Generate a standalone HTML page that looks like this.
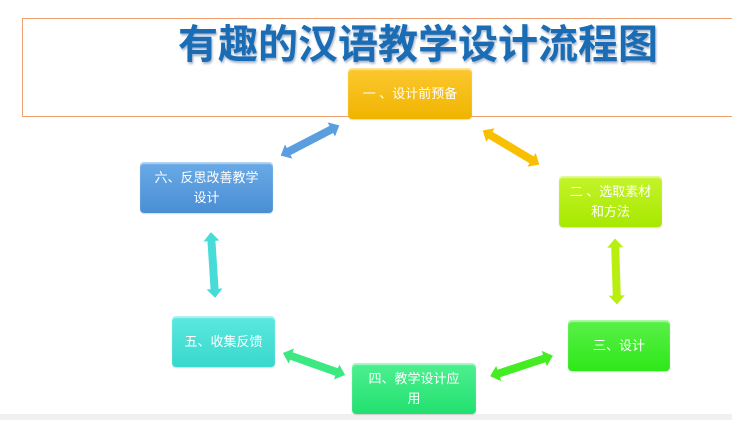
<!DOCTYPE html>
<html><head><meta charset="utf-8"><style>
body{margin:0;width:732px;height:432px;background:#fff;position:relative;overflow:hidden;font-family:"Liberation Sans","Noto Sans CJK SC",sans-serif}
.frame{position:absolute;left:22px;top:18px;width:720px;height:99px;border:1px solid #f0a070;box-sizing:border-box}
.title{position:absolute;left:148px;top:21px;width:540px;text-align:center;font-size:40px;font-weight:bold;color:#1a6cb4;line-height:48px;text-shadow:1px 2px 2px rgba(0,40,100,.35)}
.b{position:absolute;border-radius:4px;color:#fff;font-size:13px;line-height:20px;display:flex;align-items:center;justify-content:center;text-align:center;box-sizing:border-box;padding:0 4px;box-shadow:inset 0 2px 1px rgba(255,255,255,.5),0 1px 1px rgba(0,0,0,.15)}
.band{position:absolute;left:0;top:414px;width:732px;height:6px;background:#f0f0f0}
</style></head><body>
<div class="frame"></div>
<div class="title">有趣的汉语教学设计流程图</div>
<div class="band"></div>
<div class="b" style="left:348px;top:68px;width:124px;height:51px;background:linear-gradient(#fcc830,#f0b400)">一 、设计前预备</div>
<div class="b" style="left:559px;top:176px;width:103px;height:51px;background:linear-gradient(#c4f42a,#a8e800)">二 、选取素材<br>和方法</div>
<div class="b" style="left:568px;top:320px;width:102px;height:51px;background:linear-gradient(#5af04a,#2ee818)">三、设计</div>
<div class="b" style="left:352px;top:363px;width:124px;height:51px;background:linear-gradient(#4ef090,#22e070)">四、教学设计应<br>用</div>
<div class="b" style="left:172px;top:316px;width:103px;height:51px;background:linear-gradient(#5ce8e0,#38d8cc)">五、收集反馈</div>
<div class="b" style="left:140px;top:162px;width:133px;height:51px;background:linear-gradient(#6aaae6,#4a8ed4)">六、反思改善教学<br>设计</div>
<svg width="732" height="432" style="position:absolute;left:0;top:0">
<defs><polygon id="ar" points="-33,0 -24,-8 -24,-4 24,-4 24,-8 33,0 24,8 24,4 -24,4 -24,8"/></defs>
<use href="#ar" fill="#5b9ee0" transform="translate(310,140.5) rotate(-27.4)"/>
<use href="#ar" fill="#f8c000" transform="translate(511,147.5) rotate(31)"/>
<use href="#ar" fill="#b8ee10" transform="translate(616,271.5) rotate(88.2)"/>
<use href="#ar" fill="#44ec22" transform="translate(521.5,366) rotate(-18.2)"/>
<use href="#ar" fill="#3ce880" transform="translate(314,364) rotate(19.5)"/>
<use href="#ar" fill="#48dcd8" transform="translate(213,265) rotate(86.3)"/>
</svg>
</body></html>
